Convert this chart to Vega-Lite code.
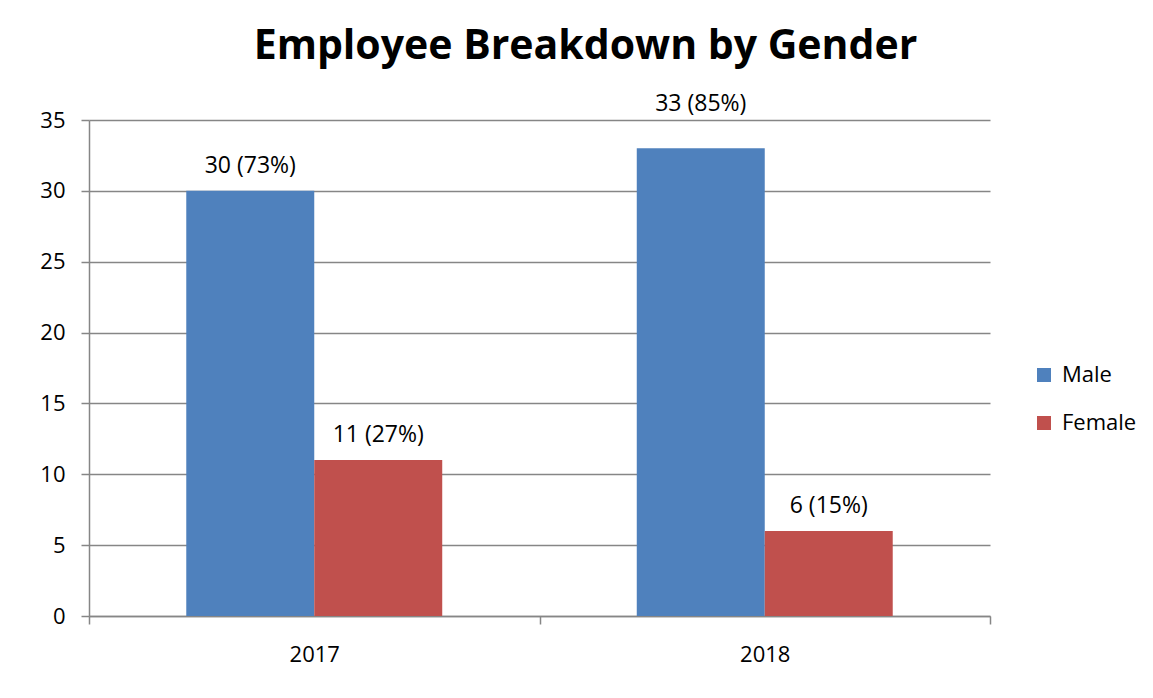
{
  "$schema": "https://vega.github.io/schema/vega-lite/v6.json",
  "autosize": "none",
  "width": 901,
  "height": 496,
  "padding": {"left": 89, "top": 120, "right": 163, "bottom": 82},
  "background": "white",
  "config": {"view": {"stroke": null}},
  "title": {
    "text": "Employee Breakdown by Gender",
    "font": "Open Sans",
    "fontSize": 41,
    "fontWeight": "bold",
    "color": "#000000",
    "anchor": "middle",
    "frame": "group",
    "baseline": "alphabetic",
    "offset": 0,
    "dx": 46,
    "dy": 7
  },
  "data": {
    "values": [
      {"year": "2017", "gender": "Male", "count": 30, "label": "30 (73%)"},
      {"year": "2017", "gender": "Female", "count": 11, "label": "11 (27%)"},
      {"year": "2018", "gender": "Male", "count": 33, "label": "33 (85%)"},
      {"year": "2018", "gender": "Female", "count": 6, "label": "6 (15%)"}
    ]
  },
  "encoding": {
    "x": {
      "field": "year",
      "type": "nominal",
      "scale": {"paddingInner": 0, "paddingOuter": 0},
      "axis": {
        "title": null,
        "labelAngle": 0,
        "tickBand": "extent",
        "domainColor": "#868686",
        "domainWidth": 1.5,
        "tickColor": "#868686",
        "tickWidth": 1.5,
        "tickSize": 8,
        "labelFont": "Open Sans",
        "labelFontSize": 22,
        "labelColor": "#000000",
        "labelPadding": 20
      }
    },
    "xOffset": {
      "field": "gender",
      "type": "nominal",
      "sort": ["Male", "Female"],
      "scale": {"paddingInner": 0, "paddingOuter": 0.76}
    },
    "y": {
      "field": "count",
      "type": "quantitative",
      "scale": {"domain": [0, 35], "nice": false},
      "axis": {
        "title": null,
        "values": [0, 5, 10, 15, 20, 25, 30, 35],
        "grid": true,
        "gridColor": "#868686",
        "gridWidth": 1.5,
        "domainColor": "#868686",
        "domainWidth": 1.5,
        "tickColor": "#868686",
        "tickWidth": 1.5,
        "tickSize": 8,
        "labelFont": "Open Sans",
        "labelFontSize": 22,
        "labelColor": "#000000",
        "labelPadding": 16
      }
    }
  },
  "layer": [
    {
      "mark": {"type": "bar"},
      "encoding": {
        "color": {
          "field": "gender",
          "type": "nominal",
          "sort": ["Male", "Female"],
          "scale": {"domain": ["Male", "Female"], "range": ["#4F81BD", "#C0504D"]},
          "legend": {
            "title": null,
            "orient": "none",
            "legendX": 944,
            "legendY": 244,
            "symbolType": "square",
            "symbolSize": 196,
            "symbolStrokeWidth": 0,
            "labelFont": "Open Sans",
            "labelFontSize": 22,
            "labelColor": "#000000",
            "labelOffset": 7,
            "rowPadding": 26
          }
        }
      }
    },
    {
      "transform": [{"filter": "datum.label !== '33 (85%)'"}],
      "mark": {"type": "text", "baseline": "bottom", "dy": -13, "font": "Open Sans", "fontSize": 23, "color": "#000000"},
      "encoding": {
        "text": {"field": "label", "type": "nominal"}
      }
    },
    {
      "transform": [{"filter": "datum.label === '33 (85%)'"}],
      "mark": {"type": "text", "baseline": "bottom", "dy": -32, "font": "Open Sans", "fontSize": 23, "color": "#000000"},
      "encoding": {
        "text": {"field": "label", "type": "nominal"}
      }
    }
  ]
}
